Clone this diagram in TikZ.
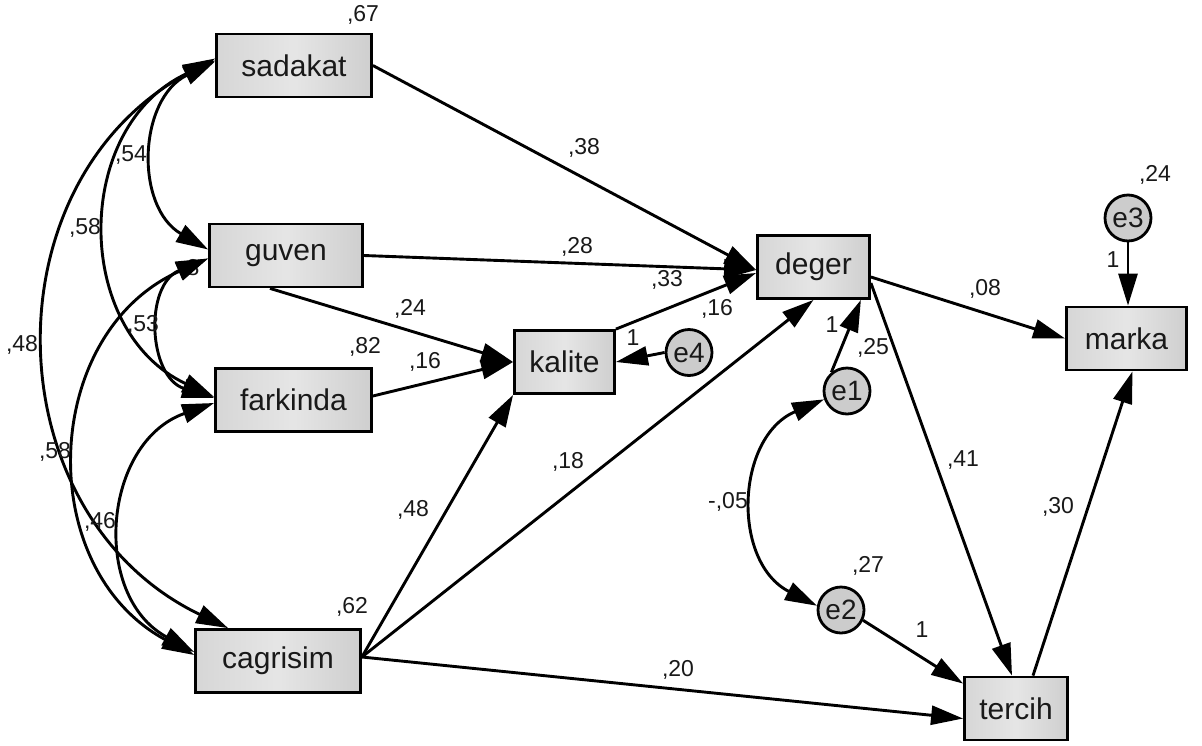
\documentclass[tikz,border=0pt]{standalone}
\usepackage{fontspec}
\setmainfont{Liberation Sans}
\usetikzlibrary{arrows.meta}

\tikzset{
  var/.style={draw=black, line width=2.8pt, left color=gray!32, right color=gray!38, middle color=gray!20,
    minimum height=63pt, inner sep=0pt, text=black!90, font=\fontsize{30}{34}\selectfont},
  err/.style={circle, draw=black, line width=2.8pt, fill=gray!40, minimum size=46pt, inner sep=0pt,
    text=black!90, font=\fontsize{28}{30}\selectfont},
  lbl/.style={inner sep=0pt, text=black!90, font=\fontsize{23}{26}\selectfont},
  reg/.style={->, line width=2.9pt},
  cov/.style={<->, line width=2.9pt}
}

\begin{document}
\begin{tikzpicture}[x=1pt, y=1pt, >={Triangle[length=32pt,width=19pt]}]
  \useasboundingbox (0,0) rectangle (1202,-745);

  % Observed variables
  \node[var, minimum width=155pt] (sadakat) at (294,-65.5) {sadakat};
  \node[var, minimum width=153pt] (guven) at (286,-255.5) {guven};
  \node[var, minimum width=156pt] (farkinda) at (293.5,-400) {farkinda};
  \node[var, minimum width=165pt] (cagrisim) at (278,-661) {cagrisim};
  \node[var, minimum width=100pt] (kalite) at (564.5,-362) {kalite};
  \node[var, minimum width=112pt] (deger) at (813.5,-267) {deger};
  \node[var, minimum width=120pt] (marka) at (1126.5,-338.5) {marka};
  \node[var, minimum width=103pt] (tercih) at (1016,-708.5) {tercih};

  % Error terms
  \node[err] (e1) at (847,-391) {e1};
  \node[err] (e2) at (841,-610) {e2};
  \node[err] (e3) at (1128,-218) {e3};
  \node[err] (e4) at (689,-352.5) {e4};

  % Variances
  \node[lbl] (v-sad) at (363,-15) {,67};
  \node[lbl] (v-gue) at (193,-268) {8};
  \node[lbl] (v-far) at (365,-347) {,82};
  \node[lbl] (v-cag) at (352,-607) {,62};
  \node[lbl] (v-e1) at (873,-348) {,25};
  \node[lbl] (v-e2) at (868,-566) {,27};
  \node[lbl] (v-e3) at (1155,-175) {,24};
  \node[lbl] (v-e4) at (717,-309) {,16};

  % Covariances
  \draw[cov] ([yshift=4pt]sadakat.west) to[bend right=62, looseness=1.16] ([yshift=6pt]guven.west);
  \draw[cov] ([yshift=5pt]sadakat.west) to[bend right=65, looseness=1.19] ([yshift=3pt]farkinda.west);
  \draw[cov] ([yshift=7pt]sadakat.west) to[bend right=63, looseness=1.17] ([xshift=34pt]cagrisim.north west);
  \draw[cov] ([yshift=-3pt]guven.west) to[bend right=70, looseness=1.27] ([yshift=2pt]farkinda.west);
  \draw[cov] ([yshift=-3pt]guven.west) to[bend right=64, looseness=1.18] ([yshift=6pt]cagrisim.west);
  \draw[cov] ([yshift=-3pt]farkinda.west) to[bend right=66, looseness=1.21] ([yshift=9pt]cagrisim.west);
  \draw[cov] (e1.200) to[bend right=65, looseness=1.19] (e2.170);

  \node[lbl] (c-sg) at (131,-155) {,54};
  \node[lbl] (c-sf) at (85,-228) {,58};
  \node[lbl] (c-sc) at (22,-345) {,48};
  \node[lbl] (c-gf) at (143,-325) {,53};
  \node[lbl] (c-gc) at (55,-452) {,58};
  \node[lbl] (c-fc) at (100,-522) {,46};
  \node[lbl] (c-e12) at (728,-502) {-,05};

  % Regression paths
  \draw[reg] (sadakat.east) -- ([yshift=-3pt]deger.west);
  \draw[reg] (guven.east) -- ([yshift=-3pt]deger.west);
  \draw[reg] (kalite.north east) -- ([yshift=-6pt]deger.west);
  \draw[reg] ([xshift=-16pt]guven.south) -- (kalite.west);
  \draw[reg] ([yshift=4pt]farkinda.east) -- (kalite.west);
  \draw[reg] (e4.west) -- (kalite.east);
  \draw[reg] ([yshift=4pt]cagrisim.east) -- (kalite.south west);
  \draw[reg] ([yshift=4pt]cagrisim.east) -- (deger.south);
  \draw[reg] ([yshift=4pt]cagrisim.east) -- ([yshift=-10pt]tercih.west);
  \draw[reg] (e1.130) -- ([xshift=-10pt]deger.south east);
  \draw[reg] ([yshift=-10pt]deger.east) -- (marka.west);
  \draw[reg] ([yshift=-16pt]deger.east) -- ([xshift=-4pt]tercih.north);
  \draw[reg] ([xshift=17pt]tercih.north) -- ([xshift=6pt]marka.south);
  \draw[reg] (e3.south) -- (e3.south |- marka.north);
  \draw[reg] (e2.-25) -- ([yshift=-8pt]tercih.north west);

  \node[lbl] (p-sd) at (584,-148) {,38};
  \node[lbl] (p-gd) at (577,-247) {,28};
  \node[lbl] (p-kd) at (667,-280) {,33};
  \node[lbl] (p-gk) at (410,-309) {,24};
  \node[lbl] (p-fk) at (425,-362) {,16};
  \node[lbl] (p-ek) at (633,-338) {1};
  \node[lbl] (p-ck) at (413,-510) {,48};
  \node[lbl] (p-cd) at (568,-462) {,18};
  \node[lbl] (p-ct) at (678,-670) {,20};
  \node[lbl] (p-ed) at (832,-325) {1};
  \node[lbl] (p-dm) at (985,-289) {,08};
  \node[lbl] (p-dt) at (963,-460) {,41};
  \node[lbl] (p-tm) at (1058,-507) {,30};
  \node[lbl] (p-em) at (1113,-260) {1};
  \node[lbl] (p-et) at (922,-630) {1};
\end{tikzpicture}
\end{document}
